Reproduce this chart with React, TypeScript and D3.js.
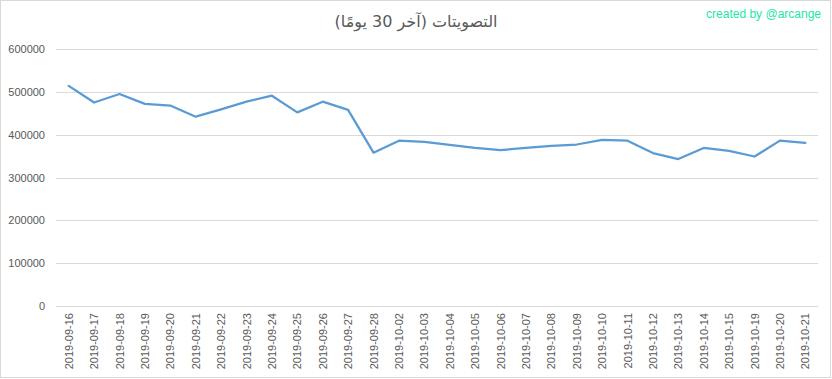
import React from "react";
import * as d3 from "d3";

const categories: string[] = [
  "2019-09-16", "2019-09-17", "2019-09-18", "2019-09-19", "2019-09-20",
  "2019-09-21", "2019-09-22", "2019-09-23", "2019-09-24", "2019-09-25",
  "2019-09-26", "2019-09-27", "2019-09-28", "2019-10-02", "2019-10-03",
  "2019-10-04", "2019-10-05", "2019-10-06", "2019-10-07", "2019-10-08",
  "2019-10-09", "2019-10-10", "2019-10-11", "2019-10-12", "2019-10-13",
  "2019-10-14", "2019-10-15", "2019-10-19", "2019-10-20", "2019-10-21",
];

const votes: number[] = [
  514000, 475000, 495000, 472000, 468000,
  442000, 459000, 477000, 491000, 452000,
  477000, 458000, 358000, 386000, 383000,
  376000, 369000, 364000, 369000, 374000,
  377000, 388000, 386000, 357000, 343000,
  369000, 362000, 349000, 386000, 381000,
];

const yTicks: number[] = [0, 100000, 200000, 300000, 400000, 500000, 600000];

const title = "التصويتات (آخر 30 يومًا)";
const watermark = "created by @arcange";

const W = 832;
const H = 379;
const plot = { left: 56, right: 818, top: 49, bottom: 306 };

export default function App() {
  const x = d3
    .scaleBand<string>()
    .domain(categories)
    .range([plot.left, plot.right]);
  const y = d3.scaleLinear().domain([0, 600000]).range([plot.bottom, plot.top]);
  const cx = (c: string) => (x(c) as number) + x.bandwidth() / 2;

  const line = d3
    .line<number>()
    .x((_, i) => cx(categories[i]))
    .y((d) => y(d));

  const font = "'Liberation Sans', Arial, 'DejaVu Sans', sans-serif";

  return (
    <svg
      width={W}
      height={H}
      style={{ position: "absolute", left: 0, top: 0, display: "block" }}
    >
      <rect x={0} y={0} width={W} height={H} fill="#fff" />
      <rect x={0.5} y={0.5} width={W - 2} height={H - 2} fill="none" stroke="#d9d9d9" strokeWidth={1} />
      <text
        x={416}
        y={27}
        textAnchor="middle"
        fontSize={16}
        fill="#595959"
        fontFamily="'DejaVu Sans', 'Liberation Sans', sans-serif"
        direction="rtl"
      >
        {title}
      </text>
      <text
        x={821}
        y={18}
        textAnchor="end"
        fontSize={12}
        fill="#1de6a8"
        fontFamily={font}
      >
        {watermark}
      </text>
      {yTicks.map((t) => (
        <g key={t}>
          <line
            x1={plot.left}
            x2={plot.right}
            y1={Math.round(y(t)) + 0.5}
            y2={Math.round(y(t)) + 0.5}
            stroke="#d9d9d9"
            strokeWidth={1}
          />
          <text
            x={45}
            y={y(t) + 4}
            textAnchor="end"
            fontSize={11}
            fill="#595959"
            fontFamily={font}
          >
            {t}
          </text>
        </g>
      ))}
      {categories.map((c) => (
        <text
          key={c}
          transform={`translate(${cx(c) + 4},313) rotate(-90)`}
          textAnchor="end"
          fontSize={11}
          fill="#595959"
          fontFamily={font}
        >
          {c}
        </text>
      ))}
      <path
        d={line(votes) || ""}
        fill="none"
        stroke="#5b9bd5"
        strokeWidth={2.25}
        strokeLinejoin="round"
        strokeLinecap="round"
      />
    </svg>
  );
}
